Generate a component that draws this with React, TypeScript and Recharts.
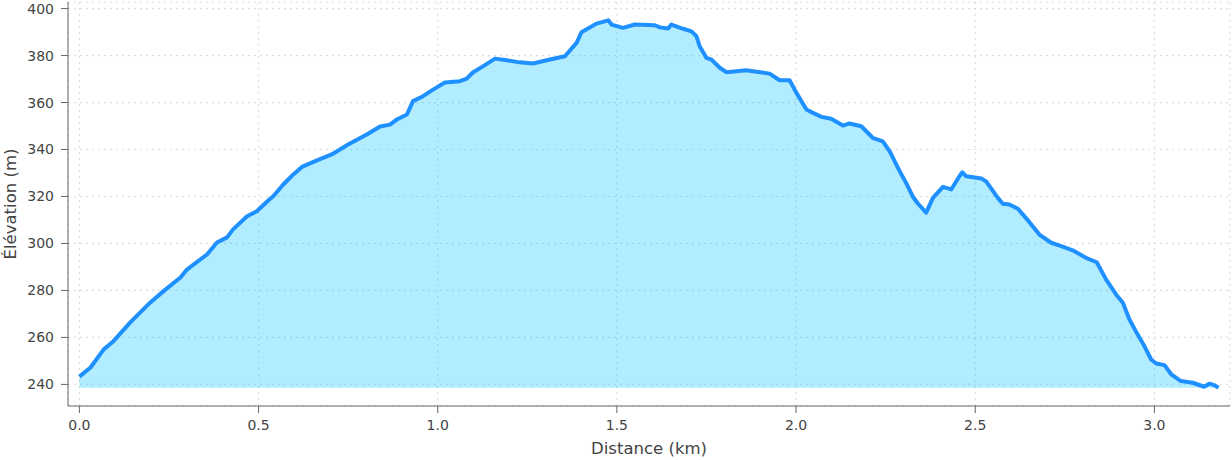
import React from "react";
import { AreaChart, Area, XAxis, YAxis, CartesianGrid } from "recharts";

const distanceKm = [
  0, 0.031, 0.068, 0.095, 0.142, 0.198, 0.234, 0.282, 0.3, 0.356, 0.384, 0.412, 0.429, 0.468, 0.495,
  0.53, 0.541, 0.569, 0.597, 0.621, 0.663, 0.704, 0.75, 0.802, 0.839, 0.867, 0.886, 0.914, 0.931,
  0.959, 0.987, 1.02, 1.062, 1.081, 1.098, 1.126, 1.16, 1.192, 1.229, 1.266, 1.313, 1.355, 1.388,
  1.401, 1.443, 1.476, 1.485, 1.517, 1.55, 1.606, 1.62, 1.643, 1.652, 1.685, 1.708, 1.722, 1.731,
  1.75, 1.764, 1.787, 1.806, 1.861, 1.88, 1.926, 1.954, 1.982, 2.001, 2.029, 2.047, 2.071, 2.098,
  2.131, 2.149, 2.182, 2.214, 2.242, 2.261, 2.289, 2.307, 2.326, 2.34, 2.363, 2.382, 2.41, 2.433,
  2.456, 2.464, 2.475, 2.517, 2.531, 2.563, 2.577, 2.595, 2.619, 2.649, 2.679, 2.712, 2.74, 2.772,
  2.809, 2.839, 2.865, 2.893, 2.912, 2.93, 2.953, 2.972, 2.991, 3.005, 3.028, 3.047, 3.074, 3.107,
  3.139, 3.153, 3.167, 3.179,
];

const elevationM = [
  243.3, 247.2, 254.9, 258.4, 266.4, 274.9, 279.6, 285.5, 288.9, 295.3, 300.4, 302.6, 306.0, 311.6,
  313.7, 318.7, 320.1, 325.1, 329.4, 332.6, 335.4, 337.9, 342.1, 346.4, 349.8, 350.6, 352.8, 354.9,
  360.6, 362.7, 365.5, 368.5, 369.1, 370.2, 372.8, 375.4, 378.7, 378.0, 377.1, 376.6, 378.3, 379.7,
  385.5, 389.9, 393.6, 395.0, 393.2, 391.8, 393.2, 392.9, 392.0, 391.5, 393.2, 391.4, 390.3, 388.2,
  384.0, 379.0, 378.3, 374.8, 372.9, 373.7, 373.3, 372.3, 369.5, 369.5, 364.1, 357.0, 355.6, 353.9,
  353.1, 350.2, 351.1, 349.9, 345.0, 343.5, 339.3, 330.8, 325.8, 319.9, 317.0, 313.1, 319.4, 324.1,
  323.0, 328.6, 330.3, 328.6, 327.7, 326.3, 319.4, 316.9, 316.6, 314.8, 309.5, 303.8, 300.3, 298.9,
  297.1, 293.9, 292.0, 284.7, 278.3, 274.8, 267.7, 261.3, 256.3, 250.6, 248.9, 248.2, 244.3, 241.4,
  240.7, 239.0, 240.3, 239.7, 238.6,
];

const xTicks = [0, 0.5, 1, 1.5, 2, 2.5, 3];
const yTicks = [240, 260, 280, 300, 320, 340, 360, 380, 400];

const data = distanceKm.map((d, i) => ({ d, e: elevationM[i] }));
const minElev = Math.min(...elevationM);

const FONT = "'DejaVu Sans', sans-serif";

export default function App() {
  return (
    <div style={{ position: "absolute", left: 0, top: 0, width: 1232, height: 460, background: "#fff" }}>
      <AreaChart
        width={1232}
        height={460}
        data={data}
        margin={{ top: 2, right: 2, left: 0, bottom: 0 }}
        style={{ fontFamily: FONT }}
      >
        <CartesianGrid stroke="#dddddd" strokeDasharray="2 4" strokeWidth={1.2} />
        <XAxis
          dataKey="d"
          type="number"
          domain={[-0.0318, 3.211]}
          allowDataOverflow
          ticks={xTicks}
          tickFormatter={(v: number) => v.toFixed(1)}
          height={54}
          stroke="#666"
          tickSize={7}
          tickMargin={7}
          tick={{ fill: "#444", fontSize: 14, fontFamily: FONT }}
          label={{
            value: "Distance (km)",
            position: "insideBottom",
            offset: 6,
            style: { fill: "#444", fontSize: 16.5, fontFamily: FONT },
          }}
        />
        <YAxis
          type="number"
          domain={[230.8, 402.8]}
          allowDataOverflow
          ticks={yTicks}
          width={68}
          stroke="#666"
          tickSize={7}
          tickMargin={7}
          tick={{ fill: "#444", fontSize: 14, fontFamily: FONT }}
          label={{
            value: "Élévation (m)",
            angle: -90,
            position: "insideLeft",
            offset: 10,
            style: { fill: "#444", fontSize: 16.5, fontFamily: FONT, textAnchor: "middle" },
          }}
        />
        <Area
          type="linear"
          dataKey="e"
          baseValue={minElev}
          stroke="#1e90ff"
          strokeWidth={4}
          strokeLinejoin="round"
          fill="#00bfff"
          fillOpacity={0.3}
          dot={false}
          activeDot={false}
          isAnimationActive={false}
        />
      </AreaChart>
    </div>
  );
}
